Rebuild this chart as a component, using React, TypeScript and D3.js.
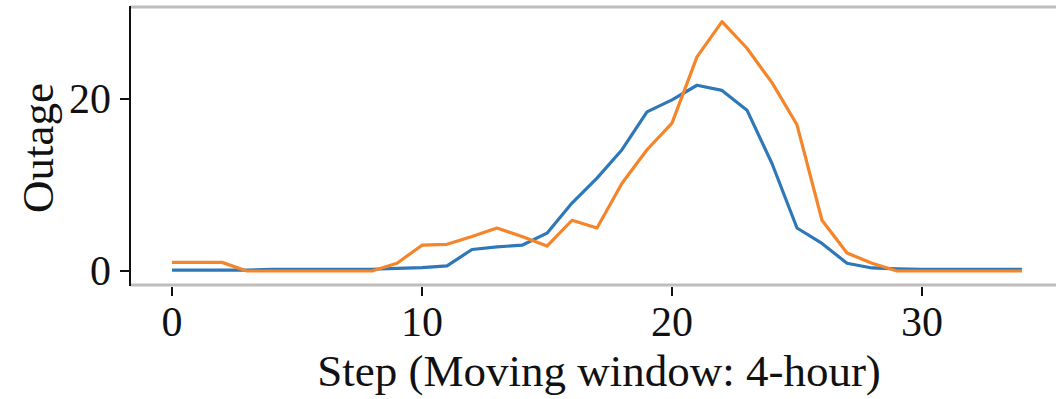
import React, { useRef, useEffect } from 'react';
import * as d3 from 'd3';

const steps = d3.range(0, 35);
const blueSeries = [
    0.1, 0.1, 0.1, 0.1, 0.2, 0.2, 0.2, 0.2, 0.2, 0.3, 0.4, 0.6, 2.5, 2.8, 3.0, 4.4, 7.9, 10.8, 14.1, 18.5,
    19.9, 21.6, 21.0, 18.7, 12.5, 5.0, 3.2, 0.9, 0.35, 0.25, 0.2, 0.2, 0.2, 0.2, 0.2,
];
const orangeSeries = [
    1.0, 1.0, 1.0, 0, 0, 0, 0, 0, 0, 0.9, 3.0, 3.1, 4.0, 5.0, 4.0, 2.9, 5.9, 5.0, 10.2, 14.1, 17.2, 24.9,
    29.0, 25.9, 21.9, 17.0, 5.9, 2.1, 0.9, 0, 0, 0, 0, 0, 0,
];
const xTicks = [0, 10, 20, 30];
const yTicks = [0, 20];
const xLabel = 'Step (Moving window: 4-hour)';
const yLabel = 'Outage';

export default function App() {
    const svg_ref = useRef(null);

    useEffect(() => {
        const svg = d3.select(svg_ref.current);
        svg.selectAll('*').remove();

        const width = 1056;
        const height = 399;
        const plot = { left: 130, right: 1060, top: 7, bottom: 285 };
        const font = '"Liberation Serif", "Times New Roman", serif';

        const x = d3.scaleLinear([-1.68, 35.52], [plot.left, plot.right]);
        const y = d3.scaleLinear([-1.63, 30.7], [plot.bottom, plot.top]);

        svg.attr('width', width).attr('height', height);
        svg.append('rect').attr('width', width).attr('height', height).attr('fill', '#fff');

        // frame
        svg.append('line')
            .attr('x1', plot.left).attr('x2', plot.right)
            .attr('y1', plot.top).attr('y2', plot.top)
            .attr('stroke', '#bdbdbd').attr('stroke-width', 3);
        svg.append('line')
            .attr('x1', plot.left).attr('x2', plot.right)
            .attr('y1', plot.bottom).attr('y2', plot.bottom)
            .attr('stroke', '#bdbdbd').attr('stroke-width', 3);
        svg.append('line')
            .attr('x1', plot.left).attr('x2', plot.left)
            .attr('y1', plot.top - 1).attr('y2', plot.bottom + 1)
            .attr('stroke', '#111').attr('stroke-width', 2);

        const line = d3
            .line<number>()
            .x((_, i) => x(steps[i]))
            .y((d) => y(d));

        svg.append('path')
            .datum(blueSeries)
            .attr('fill', 'none')
            .attr('stroke', '#2f78b8')
            .attr('stroke-width', 3.2)
            .attr('stroke-linejoin', 'round')
            .attr('d', line);

        svg.append('path')
            .datum(orangeSeries)
            .attr('fill', 'none')
            .attr('stroke', '#f5852a')
            .attr('stroke-width', 3.2)
            .attr('stroke-linejoin', 'round')
            .attr('d', line);

        // x ticks
        const gx = svg.append('g');
        xTicks.forEach((t) => {
            gx.append('line')
                .attr('x1', x(t)).attr('x2', x(t))
                .attr('y1', plot.bottom + 2).attr('y2', plot.bottom + 11)
                .attr('stroke', '#111').attr('stroke-width', 2);
            gx.append('text')
                .attr('x', x(t))
                .attr('y', 336)
                .attr('text-anchor', 'middle')
                .attr('font-family', font)
                .attr('font-size', 42)
                .attr('fill', '#111')
                .text(t);
        });

        // y ticks
        const gy = svg.append('g');
        yTicks.forEach((t) => {
            gy.append('line')
                .attr('x1', plot.left - 10).attr('x2', plot.left)
                .attr('y1', y(t)).attr('y2', y(t))
                .attr('stroke', '#111').attr('stroke-width', 2);
            gy.append('text')
                .attr('x', plot.left - 19)
                .attr('y', y(t))
                .attr('dy', '0.34em')
                .attr('text-anchor', 'end')
                .attr('font-family', font)
                .attr('font-size', 42)
                .attr('fill', '#111')
                .text(t);
        });

        svg.append('text')
            .attr('x', 599)
            .attr('y', 386)
            .attr('text-anchor', 'middle')
            .attr('font-family', font)
            .attr('font-size', 45)
            .attr('fill', '#111')
            .text(xLabel);

        svg.append('text')
            .attr('transform', `translate(53,${(plot.top + plot.bottom) / 2 + 2}) rotate(-90)`)
            .attr('text-anchor', 'middle')
            .attr('font-family', font)
            .attr('font-size', 45)
            .attr('fill', '#111')
            .text(yLabel);
    }, []);

    return <svg ref={svg_ref} style={{ position: 'absolute', left: 0, top: 0, display: 'block' }}></svg>;
}
